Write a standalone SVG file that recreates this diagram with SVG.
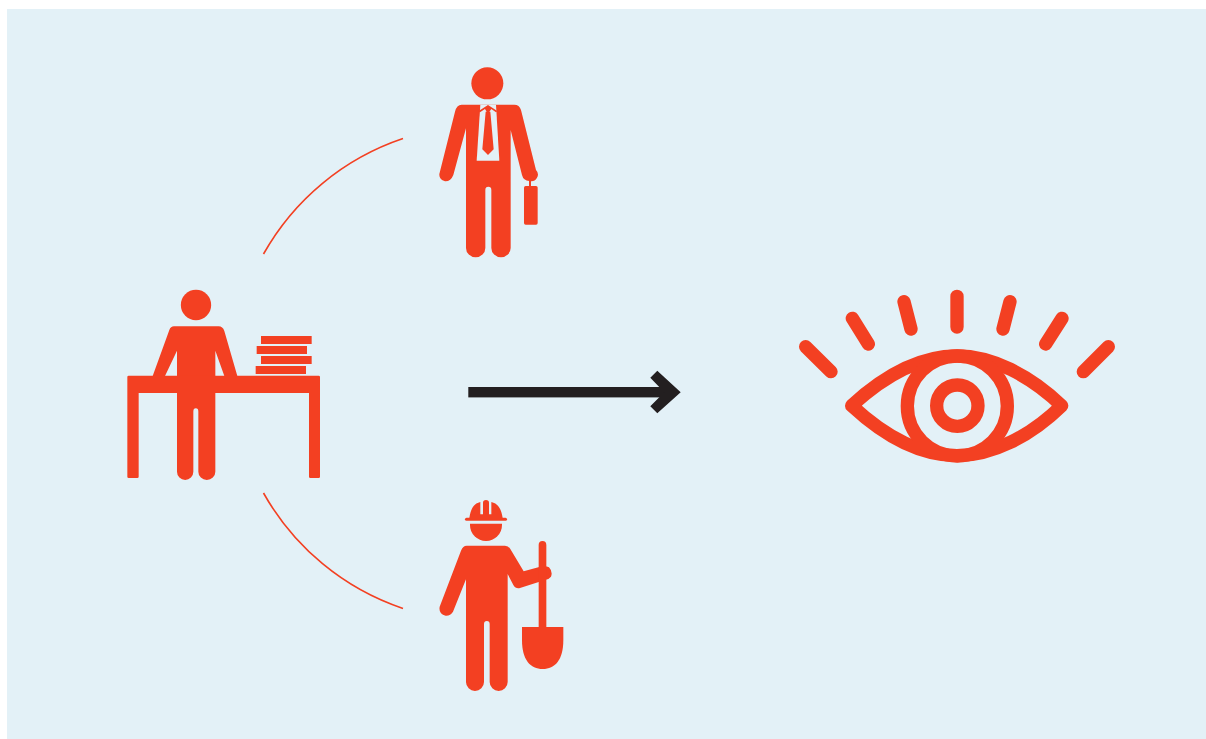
<svg xmlns="http://www.w3.org/2000/svg" width="1206" height="739" viewBox="0 0 1206 739">
<style>
.r{fill:#f34022}
.bg{fill:#e3f1f7}
.arc{fill:none;stroke:#f34022;stroke-width:1.6}
.ln{fill:none;stroke:#f34022;stroke-linecap:round;stroke-linejoin:round}
</style>
<rect width="1206" height="739" fill="#ffffff"/>
<rect class="bg" x="7" y="9" width="1199" height="730"/>
<g id="connectors">
<path class="arc" d="M263.500,254 A252,252 0 0 1 403,138.500"/>
<path class="arc" d="M263.500,493 A252,252 0 0 0 403,608.500"/>
<g id="arrow" fill="#231f20">
<rect x="468.300" y="387" width="200" height="10.400"/>
<path d="M657.300,370.700 L680.700,392.300 L657.300,413.300 L650.300,406.300 L664.300,392.300 L650.300,377.700 Z"/>
</g>
</g>
<g id="businessman" transform="translate(420 60) scale(.33333)">
<circle class="r" cx="202" cy="70" r="48"/>
<path class="r" d="M125,134 H283 Q298,134 303,150 L348,330 A20,20 0 0 1 328,363 Q310,362 306,345 L272,210 V564 A29,28 0 0 1 214,564 V390 Q214,380 205,380 Q196,380 196,390 V564 A29,28 0 0 1 138,564 V205 L100,345 Q92,365 75,364 A20,20 0 0 1 59,338 L105,155 Q110,134 125,134 Z"/>
<path class="bg" d="M181,134 L170,302 H238 L228,134 Z"/>
<path class="r" d="M204,135 L232,153 L228,157 L214,147 L208,155 L211,155 L221,268 L204,285 L187,268 L197,155 L200,155 L195,147 L180,157 L176,153 Z"/>
<path class="ln" style="stroke-linecap:butt" stroke-width="6" d="M330,355 V380"/>
<rect class="r" x="312" y="378" width="41" height="116" rx="5"/>
</g>
<g id="desk-worker" transform="translate(110 280) scale(.33333)">
<circle class="r" cx="258" cy="75" r="45.500"/>
<path class="r" d="M128,288 L178,150 Q182,139 192,139 H326 Q338,139 343,153 L382,288 H343 L316,212 V575 A25.500,25 0 0 1 265,575 V395 Q265,385 257.500,385 Q250,385 250,395 V575 A24.500,25 0 0 1 201,575 V212 L165,288 Z"/>
<path class="r" d="M56,287 H626 Q630,287 630,291 V590 Q630,594 626,594 H601 Q597,594 597,590 V339 H86 V590 Q86,594 82,594 H56 Q52,594 52,590 V291 Q52,287 56,287 Z"/>
<rect class="r" x="453" y="168" width="152" height="24"/>
<rect class="r" x="440" y="198" width="151" height="24"/>
<rect class="r" x="453" y="228" width="152" height="24"/>
<rect class="r" x="437" y="258" width="151" height="24"/>
</g>
<g id="construction-worker" transform="translate(425 490) scale(.33333)">
<path class="r" d="M135,101 H231 V105 A48,48 0 0 1 135,105 Z"/>
<rect class="r" x="120" y="83" width="126" height="9.500" rx="4.500"/>
<path class="r" d="M133,84 C138,50 150,40 166,36 V73 H174 V38 Q174,30 183,30 Q192,30 192,38 V73 H199 V36 C215,40 228,50 233,84 Z"/>
<path class="r" d="M125,167 H240 Q250,167 256,177 L296,244 L340,232 Q360,226 372,232 Q384,245 378,260 Q372,268 360,270 L285,294 Q272,297 265,285 L248,252 V576 A27,27 0 0 1 194,576 V402 Q194,393 185.500,393 Q177,393 177,402 V576 A27,27 0 0 1 123,576 V268 L84,365 Q76,378 62,377 Q40,372 44,350 L108,182 Q114,167 125,167 Z"/>
<path class="r" d="M341,165 Q341,153 352.500,153 Q364,153 364,165 V415 H341 Z"/>
<path class="r" d="M291,411 H415 V450 C415,510 390,537 353,537 C316,537 291,510 291,450 Z"/>
</g>
<g id="eye" transform="translate(785 280) scale(.33333)">
<path class="ln" stroke-width="40" d="M62,200 L138,275 M202,115 L250,192 M357,65 L378,147 M516,49 V141 M675,65 L654,147 M831,115 L782,192 M970,200 L895,275"/>
<path class="ln" stroke-width="40" d="M200,377 C300,285 410,228 516,228 C620,228 735,285 830,377 C735,470 620,527 516,527 C410,527 300,470 200,377 Z"/>
<circle class="ln" stroke-width="40" cx="517" cy="378" r="150"/>
<circle class="ln" stroke-width="40" cx="517" cy="377" r="62"/>
</g>
</svg>
